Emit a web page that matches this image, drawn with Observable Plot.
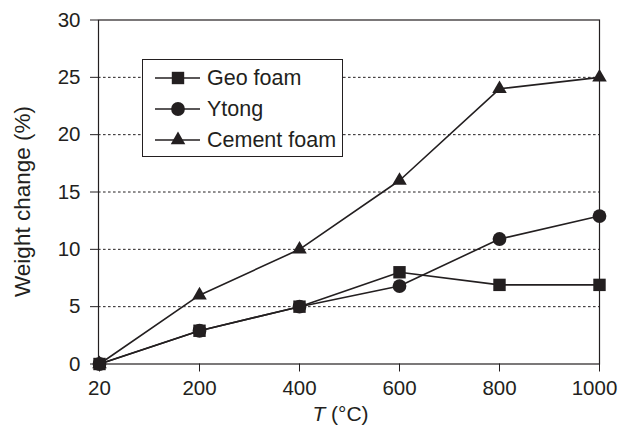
<!DOCTYPE html>
<html>
<head>
<meta charset="utf-8">
<script src="https://cdn.jsdelivr.net/npm/d3@7"></script>
<script src="https://cdn.jsdelivr.net/npm/@observablehq/plot@0.6"></script>
<style>
  html, body { margin: 0; padding: 0; background: #fff; }
  #chart { position: relative; width: 621px; height: 430px; font-family: "Liberation Sans", Arial, sans-serif; }
  #legend {
    position: absolute; left: 142px; top: 59px; width: 199px; height: 96px;
    border: 1px solid #231f20; background: #fff; box-sizing: content-box;
  }
  .entry { position: absolute; left: 0; height: 30px; display: flex; align-items: center; }
  .entry span { font-size: 21.5px; color: #231f20; margin-left: 7px; }
</style>
</head>
<body>
<div id="chart"></div>
<script>
// Heating temperatures (°C) and weight change (%) for each material
const temps = [20, 200, 400, 600, 800, 1000];
const geoFoam = [0, 2.9, 5, 8, 6.9, 6.9];
const ytong = [0, 2.9, 5, 6.8, 10.9, 12.9];
const cementFoam = [0, 6, 10, 16, 24, 25];
const seriesNames = ["Geo foam", "Ytong", "Cement foam"];
const yTicks = [0, 5, 10, 15, 20, 25, 30];
const gridLines = [5, 10, 15, 20, 25];

const ink = "#231f20";
const seriesValues = [geoFoam, ytong, cementFoam];
const symbols = ["square", "circle", "triangle"];
const radii = [7, 6.9, 5.4];

const rows = seriesNames.flatMap((name, i) =>
  temps.map((t, j) => ({series: name, T: t, w: seriesValues[i][j]}))
);
const bySeries = name => rows.filter(d => d.series === name);

// markers: circles first, then triangles, squares on top
const dotOrder = [1, 2, 0];

const plot = Plot.plot({
  width: 621,
  height: 430,
  marginLeft: 98,
  marginRight: 22,
  marginTop: 19.5,
  marginBottom: 66.5,
  style: {fontFamily: '"Liberation Sans", Arial, sans-serif', fontSize: "20.5px", color: ink, background: "#fff"},
  x: {type: "point", domain: temps, padding: 0},
  y: {domain: [0, 30]},
  marks: [
    Plot.ruleY(gridLines, {stroke: ink, strokeWidth: 1, strokeDasharray: "2.6,2.4"}),
    Plot.frame({stroke: ink, strokeWidth: 1.2}),
    Plot.axisX({tickSize: 8, tickPadding: 8, fontSize: 20.5, tickFormat: d => String(d), label: null, stroke: ink}),
    Plot.axisY({ticks: yTicks, tickSize: 8, tickPadding: 10, fontSize: 20.5, tickFormat: d => String(d), label: null, stroke: ink}),
    ...seriesNames.map(name =>
      Plot.line(bySeries(name), {x: "T", y: "w", stroke: ink, strokeWidth: 1.6})
    ),
    ...dotOrder.map(i =>
      Plot.dot(bySeries(seriesNames[i]), {x: "T", y: "w", symbol: symbols[i], r: radii[i], fill: ink, stroke: "none"})
    )
  ]
});

const chart = document.getElementById("chart");
chart.appendChild(plot);

const svg = d3.select(plot);

// keep the last x tick label inside the page
const xLabels = svg.selectAll('g[aria-label="x-axis tick label"] text').nodes();
if (xLabels.length) d3.select(xLabels[xLabels.length - 1]).attr("dx", -5);

// axis titles (italic T in the x title)
const xs = plot.scale("x"), ys = plot.scale("y");
const xMid = (xs.range[0] + xs.range[1]) / 2;
const xTitle = svg.append("text")
  .attr("x", xMid - 8).attr("y", 421)
  .attr("text-anchor", "middle")
  .attr("fill", ink)
  .style("font-size", "21px");
xTitle.append("tspan").style("font-style", "italic").text("T");
xTitle.append("tspan").text(" (°C)");

const yMid = (ys.range[0] + ys.range[1]) / 2;
svg.append("text")
  .attr("transform", `translate(30,${yMid + 10}) rotate(-90)`)
  .attr("text-anchor", "middle")
  .attr("fill", ink)
  .style("font-size", "22.5px")
  .text("Weight change (%)");

// legend box
const legend = document.createElement("div");
legend.id = "legend";
const symbolTypes = {square: d3.symbolSquare, circle: d3.symbolCircle, triangle: d3.symbolTriangle};
seriesNames.forEach((name, i) => {
  const entry = document.createElement("div");
  entry.className = "entry";
  entry.style.top = (3 + i * 31) + "px";
  const s = d3.create("svg").attr("width", 57).attr("height", 30);
  s.append("line").attr("x1", 12).attr("x2", 57).attr("y1", 15).attr("y2", 15)
    .attr("stroke", ink).attr("stroke-width", 1.6);
  s.append("path")
    .attr("transform", "translate(35,15)")
    .attr("d", d3.symbol(symbolTypes[symbols[i]], Math.PI * radii[i] * radii[i])())
    .attr("fill", ink);
  entry.appendChild(s.node());
  const label = document.createElement("span");
  label.textContent = name;
  entry.appendChild(label);
  legend.appendChild(entry);
});
chart.appendChild(legend);
</script>
</body>
</html>
